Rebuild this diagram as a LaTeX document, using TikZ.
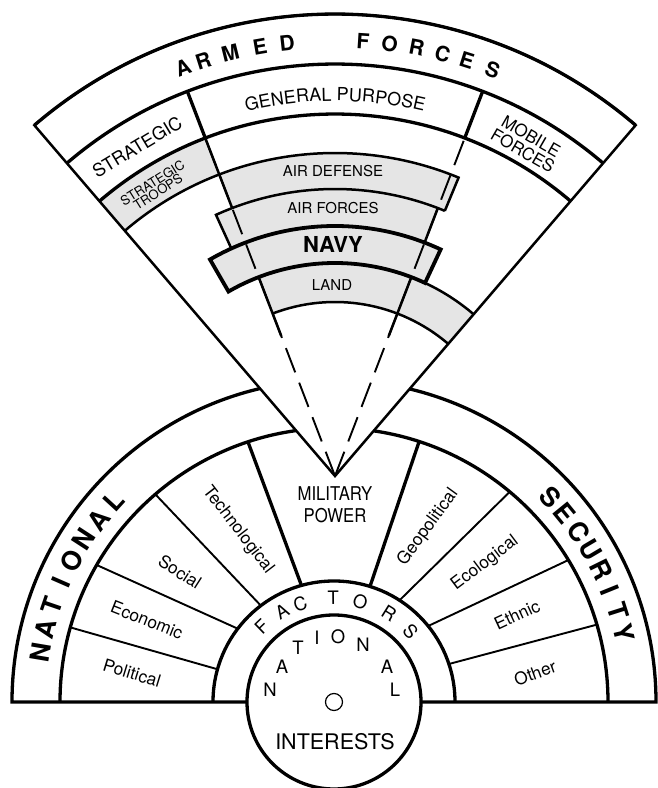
\documentclass[tikz,border=0pt]{standalone}
\usepackage{fontspec}
\setmainfont{TeX Gyre Heros}
\newfontfamily\narrowf[FakeStretch=0.88]{TeX Gyre Heros}
\usetikzlibrary{decorations.text}
\newcommand\annsec[4]{(#1:#3) arc[start angle=#1,end angle=#2,radius=#3] -- (#2:#4) arc[start angle=#2,end angle=#1,radius=#4] -- cycle}
\newcommand\fsz[1]{\fontsize{#1}{#1}\selectfont}
\begin{document}
\begin{tikzpicture}[x=1pt,y=1pt,line join=round,
  heavy/.style={line width=3.3pt},
  medium/.style={line width=2.5pt},
  light/.style={line width=1.9pt},
  stipple/.style={fill=black!10},
  dashline/.style={line width=1.9pt, dash pattern=on 26pt off 11pt},
  bigletter/.style={font=\bfseries\fsz{26.5}, inner sep=0pt},
  armletter/.style={font=\bfseries\fsz{21}, inner sep=0pt},
  facletter/.style={font=\fsz{18.5}, inner sep=0pt},
  sectorlabel/.style={font=\fsz{17.3}, inner sep=0pt},
  boxlabel/.style={font=\fsz{15}, inner sep=0pt}
]
\useasboundingbox (0,0) rectangle (657,788);
\fill[white] (0,0) rectangle (657,788);

% ---------------- lower half disc ----------------
\begin{scope}[shift={(334,86)}]
  \draw[heavy, line join=miter] (87,0) -- (322,0) arc[start angle=0,end angle=180,radius=322] -- (-87,0);
  \draw[heavy] (274,0) arc[start angle=0,end angle=180,radius=274];
  \draw[heavy] (121,0) arc[start angle=0,end angle=180,radius=121];
  \draw[heavy] (0,0) circle[radius=87];
  \draw[line width=1.2pt] (0,0) circle[radius=8.5];
  % sector dividers
  \draw[light] (164.2:274) -- (164.3:121);
  \draw[light] (150:274) -- (142.7:121);
  \draw[light] (130.7:274) -- (127.2:121);
  \draw[heavy] (108.3:274) -- (105.6:121);
  \draw[heavy] (71.9:274) -- (72.7:121);
  \draw[light] (50.1:274) -- (57.2:121);
  \draw[light] (31.2:274) -- (38.9:121);
  \draw[light] (16.4:274) -- (18.3:121);
  % NATIONAL / SECURITY
  \foreach \a/\c/\n in {170.5/N/nb1,165.8/A/nb2,161.1/T/nb3,156.4/I/nb4,151.7/O/nb5,147.0/N/nb6,142.3/A/nb7,137.6/L/nb8}
    \node[bigletter, rotate=\a-90] (\n) at (\a:298) {\c};
  \foreach \a/\c/\n in {43.5/S/sb1,39.2/E/sb2,34.9/C/sb3,30.6/U/sb4,26.3/R/sb5,22.0/I/sb6,17.7/T/sb7,13.4/Y/sb8}
    \node[bigletter, rotate=\a-90] (\n) at (\a:298) {\c};
  % FACTORS
  \foreach \a/\c/\n in {134/F/fa1,120/A/fa2,109/C/fa3,90.5/T/fa4,75.4/O/fa5,58/R/fa6,42.7/S/fa7}
    \node[facletter, rotate=\a-90] (\n) at (\a:104) {\c};
\end{scope}

% inner NATIONAL (upright)
\foreach \x/\y/\c/\n in {270/98/N/ni1,282/121/A/ni2,298/140/T/ni3,317/150/I/ni4,338/151/O/ni5,363/143/N/ni6,387/121/A/ni7,395/98/L/ni8}
  \node[facletter] (\n) at (\x,\y) {\c};
\node[font=\fsz{21.5}, inner sep=0pt] (interests) at (335,46) {INTERESTS};

% sector labels
\node[sectorlabel, rotate=-17] (political) at (132,115) {Political};
\node[sectorlabel, rotate=-21.6] (economic) at (147,168) {Economic};
\node[sectorlabel, rotate=-32.6] (social) at (180,216) {Social};
\node[sectorlabel, rotate=-52.4] (techno) at (238,258) {Technological};
\node[sectorlabel, rotate=54] (geopol) at (428,261) {Geopolitical};
\node[sectorlabel, rotate=37] (ecolog) at (485,225) {Ecological};
\node[sectorlabel, rotate=25] (ethnic) at (517,173) {Ethnic};
\node[sectorlabel, rotate=20] (other) at (535,115) {Other};
\node[font=\narrowf\fontsize{19}{22}\selectfont, align=center, inner sep=0pt] (military) at (335,283) {MILITARY\\POWER};

% ---------------- armed forces fan ----------------
\begin{scope}[shift={(335,312)}]
  \fill[white] (0,0) -- (130.6:462) arc[start angle=130.6,end angle=49.4,radius=462] -- cycle;
  \fill[stipple] \annsec{130.6}{111}{362}{323};
  \fill[stipple] \annsec{111}{67.5}{323}{287};
  \fill[stipple] \annsec{114.5}{69}{287}{250};
  \fill[stipple] \annsec{120}{65}{250}{213};
  \fill[stipple] \annsec{111}{49.4}{213}{174};
  \draw[dashline] (0,0) -- (111:362);
  \draw[dashline] (0,0) -- (69:362);
  \draw[medium, line join=miter] (0,0) -- (130.6:462) arc[start angle=130.6,end angle=49.4,radius=462] -- cycle;
  \draw[heavy] (130.6:462) arc[start angle=130.6,end angle=49.4,radius=462];
  \draw[heavy] (130.6:412) arc[start angle=130.6,end angle=49.4,radius=412];
  \draw[heavy] (130.6:362) arc[start angle=130.6,end angle=49.4,radius=362];
  \draw[heavy] (111:362) -- (111:412);
  \draw[heavy] (69:362) -- (69:412);
  \draw[medium, line join=miter] (130.6:323) arc[start angle=130.6,end angle=67.5,radius=323] -- (67.5:287);
  \draw[medium] (111:362) -- (111:287);
  \draw[medium, line join=miter] (114.5:250) -- (114.5:287) arc[start angle=114.5,end angle=67.5,radius=287];
  \draw[medium] (69:287) -- (69:250);
  \draw[line width=3.8pt, line join=miter] \annsec{120}{65}{250}{213};
  \draw[medium] (111:150) -- (111:213);
  \draw[medium] (69:150) -- (69:213);
  \draw[medium] (111:174) arc[start angle=111,end angle=49.4,radius=174];
  \draw[medium] (65:213) arc[start angle=65,end angle=49.4,radius=213];
  % texts
  \foreach \a/\c/\n in {110.4/A/af1,107.6/R/af2,103.9/M/af3,99.9/E/af4,96.3/D/af5,86.3/F/af6,82.8/O/af7,79.2/R/af8,75.7/C/af9,72.4/E/af10,68.8/S/af11}
    \node[armletter, rotate=\a-90] (\n) at (\a:436) {\c};
  \path[decorate, decoration={text along path, text align=center,
        text={|\fsz{18}|GENERAL{ }PURPOSE}}]
        (130.6:375) arc[start angle=130.6,end angle=49.4,radius=375];
  \node[font=\fsz{18}, inner sep=0pt, rotate=31] (strategic) at (121:384) {STRATEGIC};
  \node[font=\fontsize{17}{16.5}\selectfont, align=center, inner sep=0pt, rotate=-30] (mobile) at (60:384) {MOBILE\\FORCES};
  \node[font=\fontsize{13}{10.5}\selectfont, align=center, inner sep=0pt, rotate=32] (troops) at (121.9:340) {STRATEGIC\\TROOPS};
  \node[boxlabel] (airdef) at (-2,305) {AIR DEFENSE};
  \node[boxlabel] (airfor) at (-2,268) {AIR FORCES};
  \node[font=\bfseries\fsz{22}, inner sep=0pt] (navy) at (-2,232) {NAVY};
  \node[boxlabel] (land) at (-3,191) {LAND};
\end{scope}
\end{tikzpicture}
\end{document}
